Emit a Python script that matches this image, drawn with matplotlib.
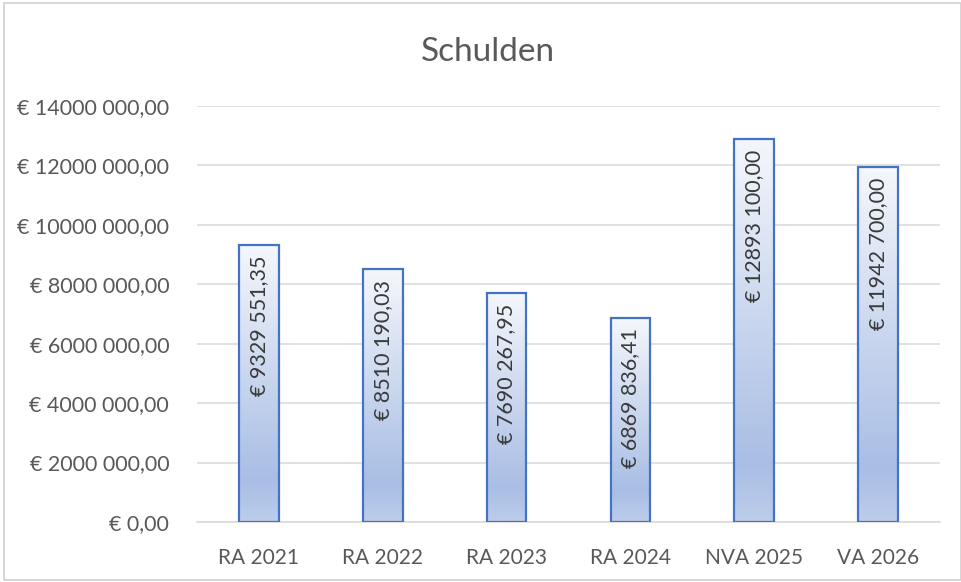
import matplotlib.pyplot as plt
import numpy as np
from matplotlib.colors import LinearSegmentedColormap
from matplotlib.patches import Rectangle
from matplotlib.ticker import FuncFormatter

CATEGORIES = ["RA 2021", "RA 2022", "RA 2023", "RA 2024", "NVA 2025", "VA 2026"]
VALUES = [9329551.35, 8510190.03, 7690267.95, 6869836.41, 12893100.00, 11942700.00]
Y_TICKS = [0, 2e6, 4e6, 6e6, 8e6, 10e6, 12e6, 14e6]

TEXT = "#595959"
GRID = "#d9d9d9"
EDGE = "#4472c4"
FONT = ["Lato", "DejaVu Sans"]


def euro(v):
    cents = int(round(v * 100))
    whole, frac = divmod(cents, 100)
    if whole >= 1000:
        head, tail = divmod(whole, 1000)
        return f"€ {head} {tail:03d},{frac:02d}"
    return f"€ {whole},{frac:02d}"


plt.rcParams["font.family"] = FONT

fig = plt.figure(figsize=(9.62, 5.82), dpi=100)
fig.patches.append(Rectangle((0.004, 0.004), 0.995, 0.99, transform=fig.transFigure,
                             fill=False, edgecolor="#d0d0d0", linewidth=1.2))
ax = fig.add_axes([0.2048, 0.1031, 0.7722, 0.7148])

# light at the top, darkest near the base, a bit lighter again at the very bottom
cmap = LinearSegmentedColormap.from_list(
    "grad", [(0.0, "#f4f7fc"), (0.55, "#c3d1ec"), (0.85, "#a9bee5"), (1.0, "#bdcdeb")])
grad = np.linspace(0, 1, 256).reshape(-1, 1)

x = np.arange(len(CATEGORIES))
bars = ax.bar(x, VALUES, width=0.32, facecolor="none", edgecolor=EDGE, linewidth=1.6, zorder=3)
for bar, val in zip(bars, VALUES):
    x0 = bar.get_x()
    im = ax.imshow(grad, cmap=cmap, aspect="auto", zorder=2,
                   extent=(x0, x0 + bar.get_width(), 0, val), interpolation="bicubic")
    im.set_clip_path(bar)
    ax.text(bar.get_x() + bar.get_width() / 2, val - 0.025 * 14e6, euro(val),
            rotation=90, ha="center", va="top", fontsize=15.5, color="#3a3a3a", zorder=4)

ax.set_xlim(-0.5, len(CATEGORIES) - 0.5)
ax.set_ylim(0, 14e6)
ax.set_yticks(Y_TICKS)
ax.yaxis.set_major_formatter(FuncFormatter(lambda v, _: euro(v)))
ax.set_xticks(x)
ax.set_xticklabels(CATEGORIES)
ax.tick_params(axis="y", length=0, labelsize=15.5, colors=TEXT, pad=20)
ax.tick_params(axis="x", length=0, labelsize=15, colors=TEXT, pad=19)
ax.grid(axis="y", color=GRID, linewidth=1.1, zorder=0)
ax.set_axisbelow(True)
for side in ["left", "right", "top"]:
    ax.spines[side].set_visible(False)
ax.spines["bottom"].set_color(GRID)
ax.spines["bottom"].set_linewidth(1.1)

fig.text(0.507, 0.91, "Schulden", ha="center", va="center", fontsize=24, color=TEXT)

fig.savefig("out.png", dpi=100)
